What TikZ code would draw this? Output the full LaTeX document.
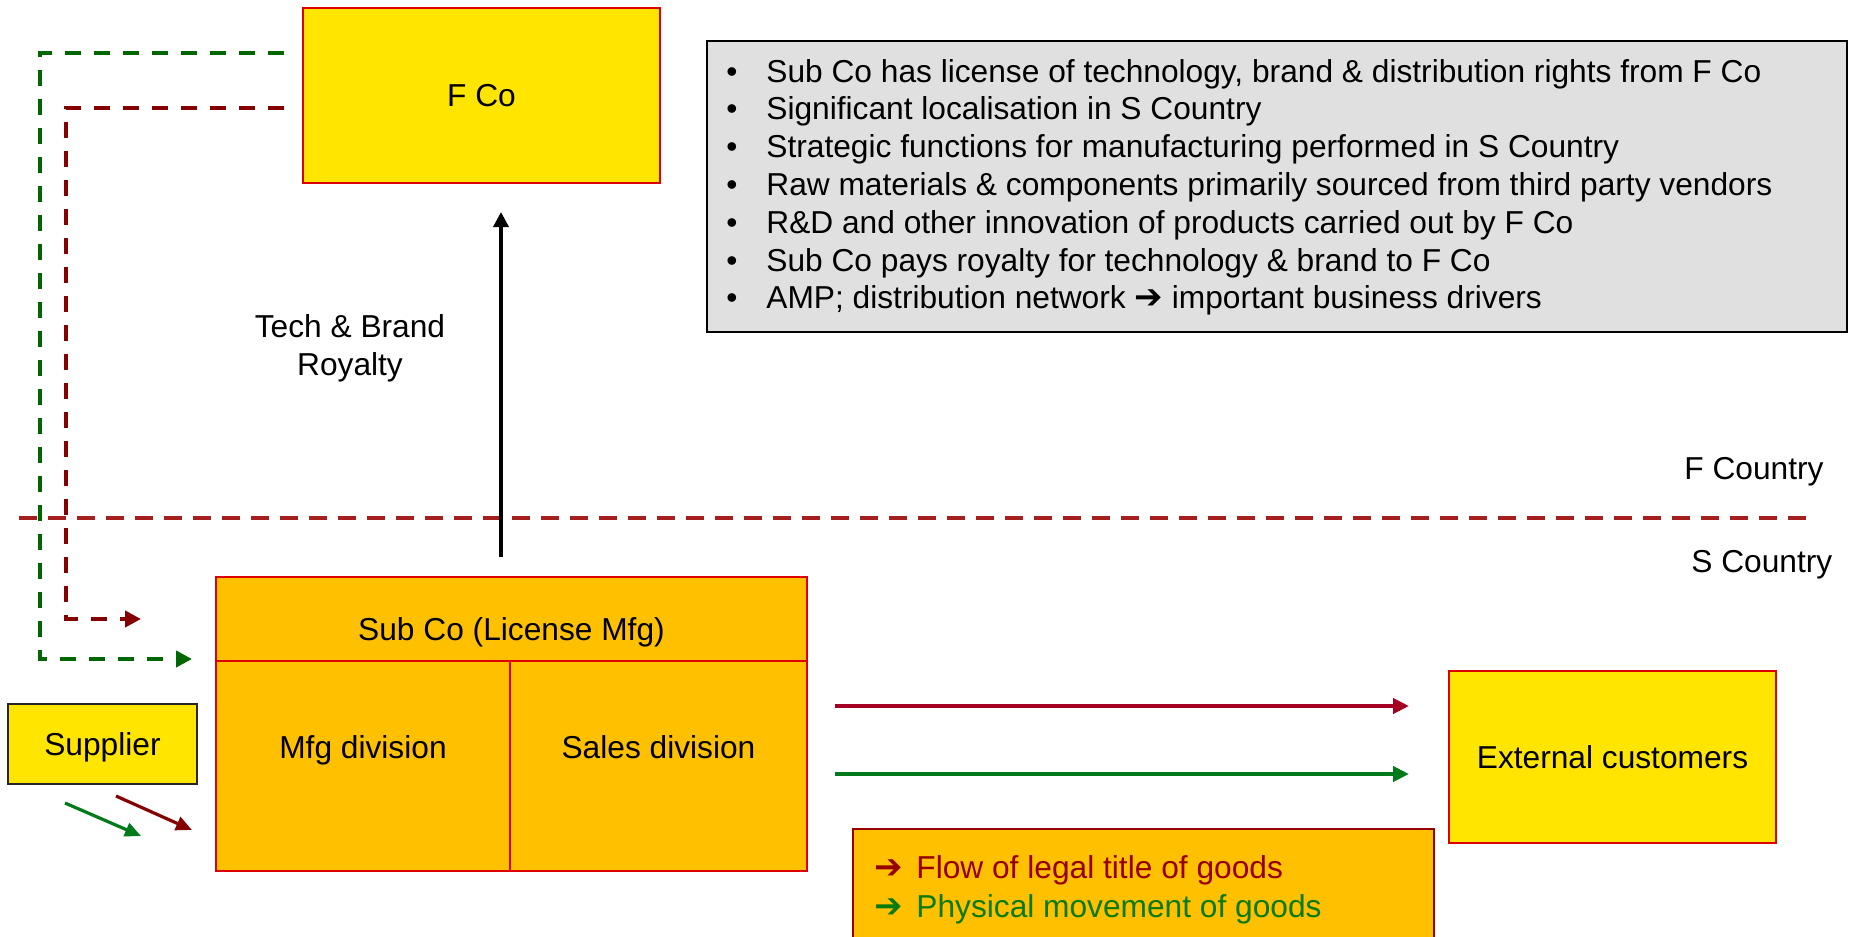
\documentclass[tikz,border=0pt]{standalone}
\usepackage{fontspec}
\setmainfont{Liberation Sans}
\newfontfamily\symfont{DejaVu Sans}
\usetikzlibrary{arrows.meta}
\definecolor{fyellow}{HTML}{FFE500}
\definecolor{forange}{HTML}{FFC000}
\definecolor{boxred}{HTML}{DD0000}
\definecolor{dgreen}{HTML}{006600}
\definecolor{dred}{HTML}{850000}
\definecolor{ctryred}{HTML}{A51F1F}
\definecolor{flowred}{HTML}{A50021}
\definecolor{flowgreen}{HTML}{007A1A}
\definecolor{legred}{HTML}{960000}
\definecolor{leggreen}{HTML}{0A7A0A}
\definecolor{notegray}{HTML}{E0E0E0}
\newcommand{\heavyarrow}{{\symfont\bfseries\fontsize{17}{18.9}\selectfont ➔}}
\begin{document}
\begin{tikzpicture}[x=0.5pt,y=-0.5pt,
  font=\fontsize{15.85}{18.9}\selectfont,
  box/.style={draw=boxred, line width=1pt, inner sep=0pt},
  ctext/.style={text height=11.35pt, text depth=0pt},
  lbl/.style={inner sep=0pt},
  dashconn/.style={line width=2pt, dash pattern=on 8pt off 6.5pt, -{Triangle[length=8pt,width=8pt]}},
  solidconn/.style={line width=2pt, -{Triangle[length=8pt,width=7.5pt]}},
  supconn/.style={line width=1.6pt, -{Triangle[length=8pt,width=7pt]}}
]
\useasboundingbox (0,0) rectangle (1849,937);
\clip (0,0) rectangle (1849,937);

% boxes
\node[box, fill=fyellow, minimum width=178.5pt, minimum height=87.5pt, ctext] (fco) at (481.5,95.5) {F Co};
\node[box, fill=forange, minimum width=295.5pt, minimum height=42pt] (subhead) at (511.5,619) {};
\node[box, fill=forange, minimum width=147pt, minimum height=105pt] (mfg) at (363,766) {};
\node[box, fill=forange, minimum width=148.5pt, minimum height=105pt] (sales) at (658.5,766) {};
\node[box, draw=black!85, fill=fyellow, minimum width=94.5pt, minimum height=40pt, ctext] (supplier) at (102.5,744) {Supplier};
\node[box, fill=fyellow, minimum width=163.5pt, minimum height=86pt, ctext] (ext) at (1612.5,757) {External customers};
\node[draw=black, line width=1pt, fill=notegray, inner sep=0pt, minimum width=570pt, minimum height=145.5pt] (notes) at (1277,186.5) {};
\node[draw=legred, line width=1pt, fill=forange, inner sep=0pt, minimum width=290.5pt, minimum height=68pt] (legend) at (1143.5,897) {};

% labels in Sub Co
\node[lbl, anchor=base] (subcolbl) at (511.5,640) {Sub Co (License Mfg)};
\node[lbl, anchor=base] (mfglbl) at (363,758) {Mfg division};
\node[lbl, anchor=base] (saleslbl) at (658.5,758) {Sales division};

% royalty label
\node[lbl, anchor=base] (tech1) at (350,337) {Tech \& Brand};
\node[lbl, anchor=base] (tech2) at (350,375) {Royalty};

% country labels
\node[lbl, anchor=base west] (fctry) at (1684,479) {F Country};
\node[lbl, anchor=base west] (sctry) at (1691,572) {S Country};

% notes
\foreach \i/\txt in {
  0/{Sub Co has license of technology, brand \& distribution rights from F Co},
  1/{Significant localisation in S Country},
  2/{Strategic functions for manufacturing performed in S Country},
  3/{Raw materials \& components primarily sourced from third party vendors},
  4/{R\&D and other innovation of products carried out by F Co},
  5/{Sub Co pays royalty for technology \& brand to F Co},
  6/{AMP; distribution network \heavyarrow{} important business drivers}}{
  \node[lbl, anchor=base] (bul\i) at (732,{82+37.8*\i}) {•};
  \node[lbl, anchor=base west] (note\i) at (766,{82+37.8*\i}) {\txt};
}

% legend text
\node[lbl, anchor=base west, text=legred] (leg1) at (874,878) {\makebox[21pt][l]{\heavyarrow}Flow of legal title of goods};
\node[lbl, anchor=base west, text=leggreen] (leg2) at (874,917) {\makebox[21pt][l]{\heavyarrow}Physical movement of goods};

% coordinates
\coordinate (gs) at (284,53);
\coordinate (gk1) at (40,53);
\coordinate (gk2) at (40,659);
\coordinate (ge) at (192,659);
\coordinate (rs) at (284,108);
\coordinate (rk1) at (66,108);
\coordinate (rk2) at (66,619);
\coordinate (re) at (141,619);
\coordinate (ra1) at (501,557);
\coordinate (ra2) at (501,212);
\coordinate (cl) at (19,518);
\coordinate (cr) at (1812,518);
\coordinate (fr1) at (835,706);
\coordinate (fr2) at (1409,706);
\coordinate (fg1) at (835,774);
\coordinate (fg2) at (1409,774);
\coordinate (sg1) at (65,803);
\coordinate (sg2) at (141,836);
\coordinate (sr1) at (116,796);
\coordinate (sr2) at (192,830);

% country divider
\draw[ctryred, line width=2pt, dash pattern=on 9pt off 5.5pt] (cl) -- (cr);

% dashed connectors
\draw[dashconn, dgreen] (gs) -- (gk1) -- (gk2) -- (ge);
\draw[dashconn, dred] (rs) -- (rk1) -- (rk2) -- (re);

% royalty arrow
\draw[line width=1.75pt, -{Triangle[length=7.5pt,width=7.5pt]}] (ra1) -- (ra2);

% flows to customers
\draw[solidconn, flowred] (fr1) -- (fr2);
\draw[solidconn, flowgreen] (fg1) -- (fg2);

% supplier arrows
\draw[supconn, flowgreen] (sg1) -- (sg2);
\draw[supconn, dred] (sr1) -- (sr2);
\end{tikzpicture}
\end{document}
